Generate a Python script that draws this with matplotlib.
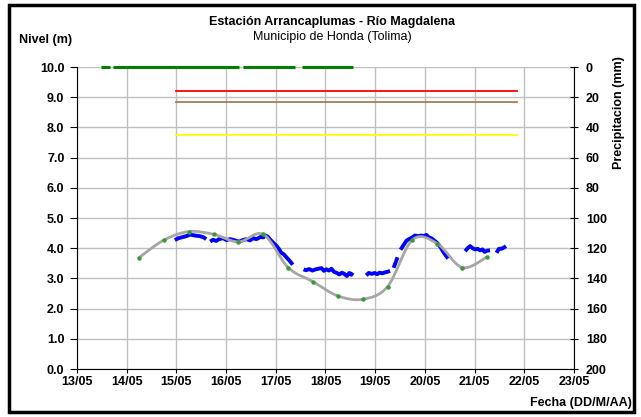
import numpy as np
import matplotlib
matplotlib.use("Agg")
import matplotlib.pyplot as plt
from matplotlib.path import Path
from matplotlib.patches import PathPatch, Rectangle

plt.rcParams["font.family"] = ["Liberation Sans", "DejaVu Sans"]

# x values are days after 13/05 00:00
day_labels = ["13/05", "14/05", "15/05", "16/05", "17/05", "18/05",
              "19/05", "20/05", "21/05", "22/05", "23/05"]

# observed level (m), None = gap
obs_t = [1.97, 2.04, 2.11, 2.20, 2.28, 2.37, 2.47, 2.55, 2.60, None,
         2.68, 2.74, 2.80, 2.86, 2.94, 3.01, 3.08, 3.14, 3.21, 3.27, 3.34, 3.41, 3.48,
         3.55, 3.61, 3.69, 3.75, 3.79, 3.84, 3.88, 3.95, 4.02, 4.07, 4.11, 4.16, 4.22,
         4.27, 4.32, 4.34, None,
         4.56, 4.61, 4.67, 4.74, 4.80, 4.86, 4.92, 4.97, 5.02, 5.07, 5.12, 5.17, 5.23,
         5.28, 5.33, 5.38, 5.43, 5.48, 5.52, 5.55, None,
         5.82, 5.87, 5.93, 5.99, 6.04, 6.09, 6.14, 6.20, 6.25, 6.30, None,
         6.37, 6.41, 6.45, None,
         6.51, 6.55, 6.59, 6.63, 6.68, 6.74, 6.80, 6.86, 6.92, 6.97, 7.03, 7.08, 7.13,
         7.17, 7.23, 7.27, 7.32, 7.37, 7.42, 7.47, None,
         7.81, 7.86, 7.91, 7.96, 8.01, 8.06, 8.11, 8.16, 8.20, 8.26, 8.31, None,
         8.44, 8.49, 8.54, 8.59, 8.63]
obs_level = [4.27, 4.33, 4.36, 4.40, 4.45, 4.42, 4.40, 4.36, 4.30, None,
             4.22, 4.28, 4.24, 4.30, 4.33, 4.27, 4.30, 4.28, 4.24, 4.22, 4.27, 4.30, 4.26,
             4.33, 4.30, 4.37, 4.36, 4.42, 4.38, 4.30, 4.18, 4.07, 3.96, 3.85, 3.80, 3.69,
             3.60, 3.50, 3.45, None,
             3.30, 3.27, 3.31, 3.26, 3.30, 3.32, 3.34, 3.25, 3.30, 3.26, 3.32, 3.22, 3.18,
             3.13, 3.19, 3.15, 3.08, 3.18, 3.12, 3.19, None,
             3.10, 3.18, 3.15, 3.18, 3.14, 3.19, 3.17, 3.20, 3.22, 3.25, None,
             3.35, 3.52, 3.70, None,
             3.95, 4.05, 4.15, 4.25, 4.30, 4.35, 4.42, 4.40, 4.42, 4.40, 4.44, 4.36, 4.33,
             4.28, 4.20, 4.13, 4.02, 3.88, 3.76, 3.66, None,
             3.90, 4.00, 4.07, 4.00, 3.96, 3.98, 3.93, 3.96, 3.88, 3.92, 3.93, None,
             3.85, 3.98, 3.98, 4.02, 4.07]

# modelled level (m), drawn as a smoothed curve
mod_t = [1.25, 1.75, 2.25, 2.75, 3.25, 3.75, 4.25, 4.75, 5.25, 5.75,
         6.25, 6.75, 7.25, 7.75, 8.25]
mod_level = [3.69, 4.27, 4.55, 4.46, 4.21, 4.46, 3.36, 2.89, 2.42, 2.31,
             2.73, 4.28, 4.15, 3.36, 3.71]

# alert thresholds (m)
thr_levels = [9.2, 8.85, 7.75]
thr_colors = ["#ff0000", "#a87c50", "#ffff00"]
thr_start, thr_end = 2.0, 8.85

# precipitation (mm) recorded as 0 over these periods
precip_periods = [(0.49, 0.67), (0.73, 3.26), (3.34, 4.39), (4.53, 5.55)]
precip_value = 0.0


def smooth_path(xs, ys):
    verts = [(xs[0], ys[0])]
    codes = [Path.MOVETO]
    n = len(xs)
    for i in range(n - 1):
        x0, y0 = xs[max(i - 1, 0)], ys[max(i - 1, 0)]
        x1, y1 = xs[i], ys[i]
        x2, y2 = xs[i + 1], ys[i + 1]
        x3, y3 = xs[min(i + 2, n - 1)], ys[min(i + 2, n - 1)]
        verts += [(x1 + (x2 - x0) / 6, y1 + (y2 - y0) / 6),
                  (x2 - (x3 - x1) / 6, y2 - (y3 - y1) / 6),
                  (x2, y2)]
        codes += [Path.CURVE4] * 3
    return Path(verts, codes)


fig = plt.figure(figsize=(6.41, 4.17), dpi=100)
ax = fig.add_axes([0.120, 0.1151, 0.7755, 0.7242])

ax.set_xlim(0, 10)
ax.set_ylim(0, 10)
ax.set_xticks(range(11))
ax.set_xticklabels(day_labels)
ax.set_yticks(np.arange(0, 10.1, 1))
ax.set_yticklabels([f"{v:.1f}" for v in np.arange(0, 10.1, 1)])
ax.grid(True, color="#c0c0c0", linewidth=1)
ax.set_axisbelow(True)
for lab in ax.get_xticklabels() + ax.get_yticklabels():
    lab.set_fontweight("bold")
    lab.set_fontsize(9)
ax.tick_params(axis="y", direction="out", length=5, width=0.8, pad=4)
ax.tick_params(axis="x", direction="out", length=3, width=0.8, pad=2)
ax.spines["top"].set_visible(False)
ax.spines["right"].set_visible(False)

for lvl, col in zip(thr_levels, thr_colors):
    ax.plot([thr_start, thr_end], [lvl, lvl], color=col, linewidth=1.3)

t = np.array([np.nan if v is None else v for v in obs_t])
h = np.array([np.nan if v is None else v for v in obs_level])
ax.plot(t, h, color="#0000ff", linewidth=2.8, solid_capstyle="butt")

ax.add_patch(PathPatch(smooth_path(mod_t, mod_level), facecolor="none",
                       edgecolor="#a6a6a6", linewidth=2.0, zorder=3))
ax.plot(mod_t, mod_level, linestyle="none", marker="o", markersize=2.2,
        color="#3a9a3a", zorder=4)

ax2 = ax.twinx()
ax2.set_ylim(200, 0)
ax2.set_yticks(range(0, 201, 20))
for lab in ax2.get_yticklabels():
    lab.set_fontweight("bold")
    lab.set_fontsize(9)
ax2.tick_params(direction="inout", length=6, width=0.8, pad=5.5)
ax2.spines["top"].set_visible(False)
ax2.spines["left"].set_visible(False)
ax2.spines["bottom"].set_visible(False)
for a, b in precip_periods:
    ax2.plot([a, b], [precip_value, precip_value], color="#008000",
             linewidth=2.2, solid_capstyle="butt", clip_on=False)

fig.text(0.518, 0.947, "Estación Arrancaplumas - Río Magdalena",
         ha="center", va="center", fontsize=9, fontweight="bold")
fig.text(0.518, 0.911, "Municipio de Honda (Tolima)",
         ha="center", va="center", fontsize=9)
fig.text(0.03, 0.904, "Nivel (m)", ha="left", va="center",
         fontsize=9, fontweight="bold")
fig.text(0.966, 0.73, "Precipitacion (mm)", ha="center", va="center",
         rotation=90, fontsize=9, fontweight="bold")
fig.text(0.986, 0.034, "Fecha (DD/M/AA)", ha="right", va="center",
         fontsize=9, fontweight="bold")

fig.patches.append(Rectangle((0.014, 0.012), 0.975, 0.976, transform=fig.transFigure,
                             fill=False, edgecolor="black", linewidth=2.5))

fig.savefig("out.png", dpi=100)
